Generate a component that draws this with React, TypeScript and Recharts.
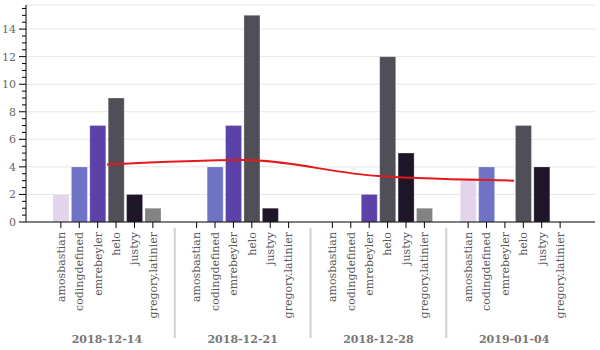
import { ComposedChart, Bar, Line, XAxis, YAxis, CartesianGrid } from "recharts";

document.body.style.margin = "0";

const weeks = ["2018-12-14", "2018-12-21", "2018-12-28", "2019-01-04"];
const users = ["amosbastian", "codingdefined", "emrebeyler", "helo", "justyy", "gregory.latinier"];
const userColors = ["#e2d4ea", "#6f73c5", "#5c42a8", "#504f58", "#1e1528", "#838383"];

const amosbastian = [2, 0, 0, 3];
const codingdefined = [4, 4, 0, 4];
const emrebeyler = [7, 7, 2, 0];
const helo = [9, 15, 12, 7];
const justyy = [2, 1, 5, 4];
const gregoryLatinier = [1, 0, 1, 0];
const weeklyAverage = [4.17, 4.5, 3.33, 3];

const yTicks = Array.from({ length: 32 }, (_, i) => i * 0.5);
const gridValues = [2, 4, 6, 8, 10, 12, 14, 15.75];

const series = [amosbastian, codingdefined, emrebeyler, helo, justyy, gregoryLatinier];
const data = weeks.map((week, w) => {
  const row: Record<string, string | number> = { week, average: weeklyAverage[w] };
  users.forEach((u, i) => {
    row[u] = series[i][w];
  });
  return row;
});

const WIDTH = 600;
const HEIGHT = 350;
const LEFT = 26;
const RIGHT = 5;
const PAD = 13;
const BAR_SIZE = 16;
const BAR_GAP = 2.4;
const BAND = (WIDTH - LEFT - RIGHT - 2 * PAD) / weeks.length;

function WeekTick(props: any) {
  const { x, y, payload, index } = props;
  const slot = BAR_SIZE + BAR_GAP;
  return (
    <g>
      {index > 0 && (
        <line x1={x - BAND / 2} x2={x - BAND / 2} y1={y + 6} y2={y + 116} stroke="#d0d0d0" strokeWidth={2} />
      )}
      {users.map((u, i) => {
        const cx = x + (i - (users.length - 1) / 2) * slot;
        return (
          <g key={u}>
            <line x1={cx} x2={cx} y1={y} y2={y + 6} stroke="#000" />
            <text
              transform={`translate(${cx},${y + 10}) rotate(-90)`}
              textAnchor="end"
              dy="0.35em"
              fontFamily="DejaVu Serif"
              fontSize={11}
              fill="#5a5a5a"
            >
              {u}
            </text>
          </g>
        );
      })}
      <text x={x} y={y + 121} textAnchor="middle" fontFamily="DejaVu Serif" fontWeight="bold" fontSize={11} fill="#777">
        {payload.value}
      </text>
    </g>
  );
}

function ValueTick(props: any) {
  const { y, payload } = props;
  const v = payload.value;
  const major = Number.isInteger(v) && v % 2 === 0;
  return (
    <g>
      <line x1={LEFT - (major ? 7 : 4)} x2={LEFT} y1={y} y2={y} stroke="#000" />
      {major && (
        <text x={LEFT - 10} y={y} dy="0.35em" textAnchor="end" fontFamily="DejaVu Serif" fontSize={11} fill="#666">
          {v}
        </text>
      )}
    </g>
  );
}

export default function App() {
  return (
    <ComposedChart
      width={WIDTH}
      height={HEIGHT}
      data={data}
      margin={{ top: 5, right: RIGHT, bottom: 0, left: 0 }}
      barSize={BAR_SIZE}
      barGap={BAR_GAP}
    >
      <CartesianGrid vertical={false} stroke="#e6e6e6" horizontalValues={gridValues} />
      <XAxis
        dataKey="week"
        height={128}
        padding={{ left: PAD, right: PAD }}
        tickSize={0}
        tickMargin={0}
        tickLine={false}
        axisLine={{ stroke: "#000" }}
        tick={<WeekTick />}
        interval={0}
      />
      <YAxis
        width={LEFT}
        domain={[0, 15.75]}
        ticks={yTicks}
        interval={0}
        tickLine={false}
        tickSize={0}
        axisLine={{ stroke: "#000" }}
        tick={<ValueTick />}
      />
      <YAxis yAxisId="right" orientation="right" width={0} tick={false} tickLine={false} axisLine={{ stroke: "#e6e6e6" }} />
      {users.map((u, i) => (
        <Bar key={u} dataKey={u} fill={userColors[i]} stroke="#ffffff" strokeOpacity={0.5} strokeWidth={0.5} isAnimationActive={false} />
      ))}
      <Line
        type="monotone"
        dataKey="average"
        stroke="#e3191c"
        strokeWidth={2}
        dot={false}
        isAnimationActive={false}
      />
    </ComposedChart>
  );
}
